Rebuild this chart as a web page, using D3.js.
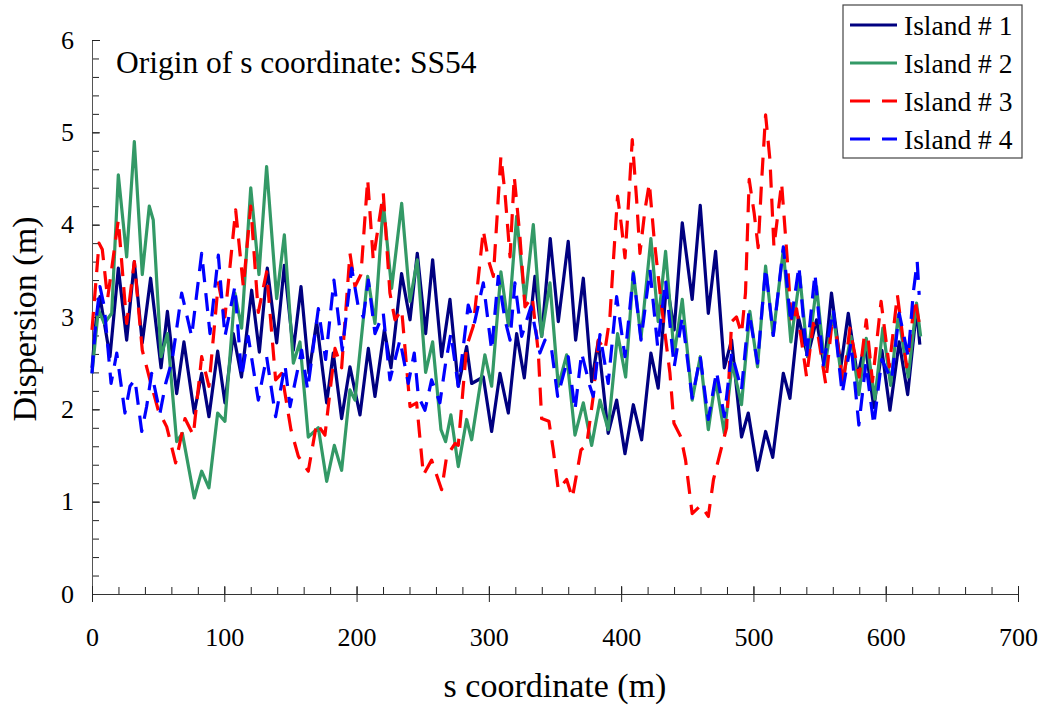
<!DOCTYPE html>
<html>
<head>
<meta charset="utf-8">
<script src="https://cdn.jsdelivr.net/npm/d3@7"></script>
<style>
  body { margin: 0; background: #fff; }
</style>
</head>
<body>
<div id="chart"></div>
<script>
// series values: [s (m), dispersion (m)]
const island1 = [[0,2.45],[3,2.95],[6,3.22],[13.6,2.57],[19.9,3.53],[26.2,2.75],[32,3.6],[38,2.72],[44.3,3.42],[52.2,2.45],[57,3.06],[64,2.17],[69.5,2.73],[77.3,1.96],[82.9,2.39],[88.4,1.92],[95,2.63],[100.5,2.07],[106.8,2.82],[113,2.35],[120.7,3.29],[126.5,2.62],[132.5,3.53],[139.6,2.72],[145.4,3.56],[152.2,2.64],[158,3.33],[164,2.39],[169.8,2.95],[177.4,2.07],[182.4,2.61],[188.7,1.9],[195,2.46],[202.6,1.94],[208.9,2.66],[213.9,2.14],[221,2.86],[226,2.45],[234,3.47],[240.4,2.97],[245.9,3.69],[252.2,2.82],[257.5,3.62],[264.3,2.57],[270.6,3.19],[276.9,2.25],[283.2,2.68],[287,2.28],[295.8,2.35],[302.1,1.76],[308.4,2.39],[314.7,1.96],[321,2.82],[326.8,2.34],[334.8,3.44],[339.9,2.79],[346.4,3.85],[352.5,2.95],[360,3.82],[365.6,2.75],[371.4,3.42],[377.7,2.3],[382.7,2.74],[390.2,1.74],[396.6,2.1],[402.9,1.52],[409.2,2.05],[415.5,1.67],[422.5,2.61],[428,2.23],[434.4,3.38],[440.1,2.86],[446.2,4.02],[453.7,3.19],[459.8,4.21],[465.9,3.04],[471.4,3.71],[478,2.45],[483.5,2.75],[491,1.7],[496.1,1.96],[503.1,1.34],[509.2,1.76],[514.6,1.48],[522.6,2.39],[527.6,2.12],[534,3.0],[541,2.57],[547.7,2.97],[553.5,2.46],[559,3.26],[566.1,2.46],[571.7,3.04],[578.7,2.35],[584.3,2.72],[591,2.02],[597.1,2.64],[603.2,1.99],[610.2,2.73],[616.6,2.16],[623.3,3.08],[625.8,2.7]];

const island2 = [[0,2.39],[4.8,3.08],[9.3,2.93],[14.9,3.04],[19.9,4.54],[26.2,3.65],[32,4.9],[38,3.46],[43.3,4.2],[46.3,4.05],[52.2,2.57],[57,2.82],[64,1.65],[68.3,1.74],[77.3,1.04],[82.9,1.33],[88.4,1.15],[95,1.96],[100.5,1.87],[108,3.26],[113.1,2.88],[120,4.4],[126.2,3.46],[132,4.63],[139.6,3.2],[145.4,3.89],[152.2,2.5],[157.2,2.73],[163.5,1.7],[171.1,1.8],[177.4,1.22],[183.2,1.61],[188.7,1.34],[195,2.21],[198.8,2.1],[208.4,3.44],[213.9,2.93],[220.2,4.23],[226.5,3.31],[234.1,4.23],[240.4,3.17],[245.9,3.62],[252.2,2.4],[257.5,2.73],[263.8,1.78],[267.3,1.65],[271.3,1.94],[276.9,1.38],[283.2,1.89],[287,1.67],[297,2.59],[302.1,2.25],[309.1,3.49],[314.7,2.91],[321,4.09],[327.3,3.17],[333.6,4.0],[339.9,2.79],[346.2,3.37],[352.5,2.25],[358.8,2.59],[365.1,1.72],[371.4,2.07],[377.7,1.61],[384,2.1],[390.2,1.78],[397.3,2.82],[403.4,2.35],[409.2,3.49],[415,2.77],[422.5,3.85],[428,2.95],[433.6,3.71],[440.1,2.59],[446.2,3.19],[453.7,2.1],[459.8,2.57],[465.9,1.78],[471.4,2.32],[478,1.74],[484,2.5],[491,2.05],[497.3,3.06],[503.1,2.46],[509.2,3.55],[514.9,2.8],[522.6,3.73],[528.3,2.73],[535.1,3.44],[541,2.57],[547.7,3.33],[554,2.46],[560.3,3.04],[567.1,2.28],[573.7,2.79],[579.7,2.16],[585.3,2.77],[591.8,2.11],[597.8,2.88],[603.7,2.26],[609.5,3.02],[617,2.35],[623.3,3.15],[626.4,2.79]];

const island3 = [[0,2.86],[5.3,3.8],[7.8,3.73],[11.8,3.2],[19.9,4.05],[26.2,2.93],[32,3.6],[38,2.64],[43.8,2.32],[50.1,1.99],[56.5,1.81],[63.2,1.42],[70.3,1.9],[76.6,1.72],[82.9,2.57],[88.4,2.25],[95.5,3.37],[100.5,3.0],[108.6,4.16],[114.4,3.33],[120,4.2],[125.7,3.05],[132,3.49],[138.8,2.32],[143.4,2.39],[150.4,1.78],[156,1.49],[163.5,1.33],[169.8,1.85],[176.1,1.72],[183.7,2.66],[188.7,2.45],[195,3.69],[198.8,3.33],[203.3,3.46],[208.4,4.49],[212.6,3.62],[220.2,4.34],[225.2,3.26],[229,2.97],[234.1,3.08],[240.4,2.03],[245.4,2.07],[250.5,1.29],[256.7,1.45],[264.3,1.13],[268.1,1.49],[274.4,1.63],[276.9,1.61],[283.2,2.68],[288.2,2.9],[295.8,3.94],[299.6,3.62],[303.4,3.44],[309.1,4.74],[312.2,4.34],[316,3.65],[319.2,4.52],[323.5,3.87],[327.3,3.11],[332.8,3.22],[337.4,2.61],[339.9,1.9],[345.4,1.87],[348.7,1.56],[352.5,1.13],[358.8,1.24],[363.1,1.04],[369.6,1.56],[373.9,1.61],[378.9,2.14],[382.7,2.75],[387.8,2.64],[391.5,3.0],[394,3.58],[397.3,4.31],[400.3,3.98],[402.9,3.64],[405.4,4.2],[408.4,4.92],[411.7,4.27],[414.2,3.69],[418,4.16],[421.3,4.45],[425,3.84],[430.6,3.11],[436.9,2.39],[439.9,1.85],[445.2,1.7],[448.7,1.45],[453.7,0.87],[460.3,0.96],[465.9,0.84],[469.8,1.24],[474.7,1.52],[479.7,1.8],[483.5,2.95],[487.2,3.0],[491,2.82],[494,3.26],[496.8,4.49],[500.6,4.12],[503.6,3.75],[506.1,4.45],[509.2,5.19],[512.5,4.7],[515.5,3.76],[521.3,4.45],[525.8,3.58],[528.8,2.93],[532.6,3.09],[535.9,2.79],[540.2,2.35],[545.2,2.93],[549,2.79],[554.6,2.28],[559.1,2.9],[562.9,2.79],[567.9,2.28],[572.9,2.88],[580,2.35],[585.3,2.97],[590,2.3],[596.5,3.17],[602.7,2.46],[608.8,3.24],[615.8,2.46],[622.1,3.19],[625.8,2.9]];

const island4 = [[0,2.39],[2.8,2.93],[6,3.33],[9.3,3.11],[14.4,2.28],[18.7,2.61],[24.9,1.96],[28.7,2.25],[32.5,2.32],[37.6,1.76],[41.3,2.03],[45.1,2.39],[51.4,1.96],[55.7,2.28],[60.7,2.54],[67.8,3.26],[75.3,2.79],[82.9,3.69],[89.2,2.82],[95.5,3.67],[100.5,2.79],[108,3.33],[113.1,2.35],[118.1,2.79],[125.7,2.1],[132,2.57],[138.8,1.92],[145.9,2.48],[149.7,2.03],[158.5,2.64],[163,2.21],[171.1,3.09],[176.6,2.54],[182.9,3.4],[189.2,2.64],[196.3,3.53],[201.3,3.11],[205.1,3.0],[208.9,3.4],[213.9,2.82],[220.2,3.04],[225.2,2.32],[232.8,2.75],[239.1,2.28],[243.6,2.61],[246.7,2.14],[251.7,1.99],[256.7,2.32],[263,2.07],[267.3,2.5],[271.3,2.82],[276.9,2.25],[280.7,2.68],[284.4,3.13],[289,2.93],[295.8,3.37],[302.1,2.64],[307.1,3.44],[312.2,2.97],[316,2.75],[319.7,3.37],[324.8,2.79],[331.8,3.11],[338.6,2.61],[342.4,2.75],[347.5,2.64],[352,2.14],[360,2.57],[365.1,1.99],[370.1,2.61],[376.4,2.25],[378.9,2.14],[384,2.81],[390.2,2.28],[396.6,3.22],[402.9,2.57],[409.2,3.47],[415,2.75],[421.8,3.51],[427.6,2.68],[433.6,3.4],[440.1,2.46],[446.2,3.0],[453.7,2.12],[459.8,2.57],[465.9,1.89],[472.1,2.41],[478,1.92],[483.5,2.61],[491,2.21],[496.6,3.06],[503.1,2.5],[509.2,3.53],[515,2.8],[522.6,3.76],[528.3,2.93],[534.4,3.55],[540.2,2.57],[546.5,3.47],[552.8,2.48],[560.3,3.08],[567.1,2.17],[573.7,2.72],[579.7,1.83],[585,2.5],[591,1.83],[597,2.54],[604.4,2.32],[610.2,3.04],[617,2.57],[620.8,3.26],[623.8,3.6],[625.3,3.24]];

const seriesNames = ["Island # 1", "Island # 2", "Island # 3", "Island # 4"];
const xTicks = [0, 100, 200, 300, 400, 500, 600, 700];
const yTicks = [0, 1, 2, 3, 4, 5, 6];

const FONT = "'Liberation Serif', 'Times New Roman', serif";

const series = [
  {name: seriesNames[0], values: island1, color: "#000080", dash: null},
  {name: seriesNames[1], values: island2, color: "#339966", dash: null},
  {name: seriesNames[2], values: island3, color: "#ff0000", dash: "18,11"},
  {name: seriesNames[3], values: island4, color: "#0000ff", dash: "18,11"}
];

const W = 1042, H = 706;
const svg = d3.select("#chart").append("svg")
  .attr("width", W).attr("height", H)
  .attr("font-family", FONT);

svg.append("rect").attr("width", W).attr("height", H).attr("fill", "#fff");

let x = d3.scaleLinear().domain([0, 700]).range([92, 1018]);
let y = d3.scaleLinear().domain([0, 6]).range([594, 40]);

// minor ticks on y (every 0.2), pointing into the plot
svg.append("g")
  .attr("transform", "translate(" + x(0) + ",0)")
  .call(d3.axisRight(y).tickValues(d3.range(0, 6.001, 0.2)).tickSize(7).tickFormat(""))
  .call(g => g.select(".domain").remove())
  .selectAll("line").attr("stroke", "#222");

// y axis, major ticks cross the line
let yAxis = svg.append("g")
  .attr("transform", "translate(" + x(0) + ",0)")
  .call(d3.axisLeft(y).tickValues(yTicks).tickSize(8).tickPadding(10)
    .tickSizeOuter(0).tickFormat(d3.format("d")));
yAxis.attr("font-family", FONT).attr("font-size", 26);
yAxis.selectAll(".tick line").attr("x2", 8);
yAxis.selectAll("line").attr("stroke", "#222");
yAxis.select(".domain").attr("stroke", "#555");

// minor ticks on x (every 20), pointing up
svg.append("g")
  .attr("transform", "translate(0," + y(0) + ")")
  .call(d3.axisTop(x).tickValues(d3.range(0, 701, 20)).tickSize(7).tickFormat(""))
  .call(g => g.select(".domain").remove())
  .selectAll("line").attr("stroke", "#222");

// x axis, major ticks cross the line
let xAxis = svg.append("g")
  .attr("transform", "translate(0," + y(0) + ")")
  .call(d3.axisBottom(x).tickValues(xTicks).tickSize(8).tickPadding(26)
    .tickSizeOuter(0).tickFormat(d3.format("d")));
xAxis.attr("font-family", FONT).attr("font-size", 26);
xAxis.selectAll(".tick line").attr("y1", -8);
xAxis.selectAll("line").attr("stroke", "#222");
xAxis.select(".domain").attr("stroke", "#333");

// lines
let line = d3.line().x(d => x(d[0])).y(d => y(d[1]));
svg.append("g").selectAll("path")
  .data(series)
  .enter().append("path")
  .attr("d", d => line(d.values))
  .attr("fill", "none")
  .attr("stroke", d => d.color)
  .attr("stroke-width", 3.2)
  .attr("stroke-linejoin", "round")
  .attr("stroke-dasharray", d => d.dash);

// axis titles
svg.append("text")
  .attr("x", (x(0) + x(700)) / 2).attr("y", 697)
  .attr("text-anchor", "middle")
  .attr("font-size", 34)
  .text("s coordinate (m)");

svg.append("text")
  .attr("transform", "translate(36," + (y(3) + 2) + ") rotate(-90)")
  .attr("text-anchor", "middle")
  .attr("font-size", 34)
  .text("Dispersion (m)");

svg.append("text")
  .attr("x", 116).attr("y", 73)
  .attr("font-size", 31.5)
  .text("Origin of s coordinate: SS54");

// legend
let legend = svg.append("g");
legend.append("rect")
  .attr("x", 843).attr("y", 5).attr("width", 179).attr("height", 153)
  .attr("fill", "#fff").attr("stroke", "#444").attr("stroke-width", 1.2);

let entries = legend.selectAll(".legend-entry")
  .data(series)
  .enter().append("g")
  .attr("class", "legend-entry")
  .attr("transform", (d, i) => "translate(0," + (25 + i * 38) + ")");

entries.append("line")
  .attr("x1", 850).attr("x2", 897)
  .attr("stroke", d => d.color)
  .attr("stroke-width", 3.2)
  .attr("stroke-dasharray", d => d.dash ? "20,12" : null);

entries.append("text")
  .attr("x", 904).attr("y", 10)
  .attr("font-size", 27.5)
  .text(d => d.name);
</script>
</body>
</html>
